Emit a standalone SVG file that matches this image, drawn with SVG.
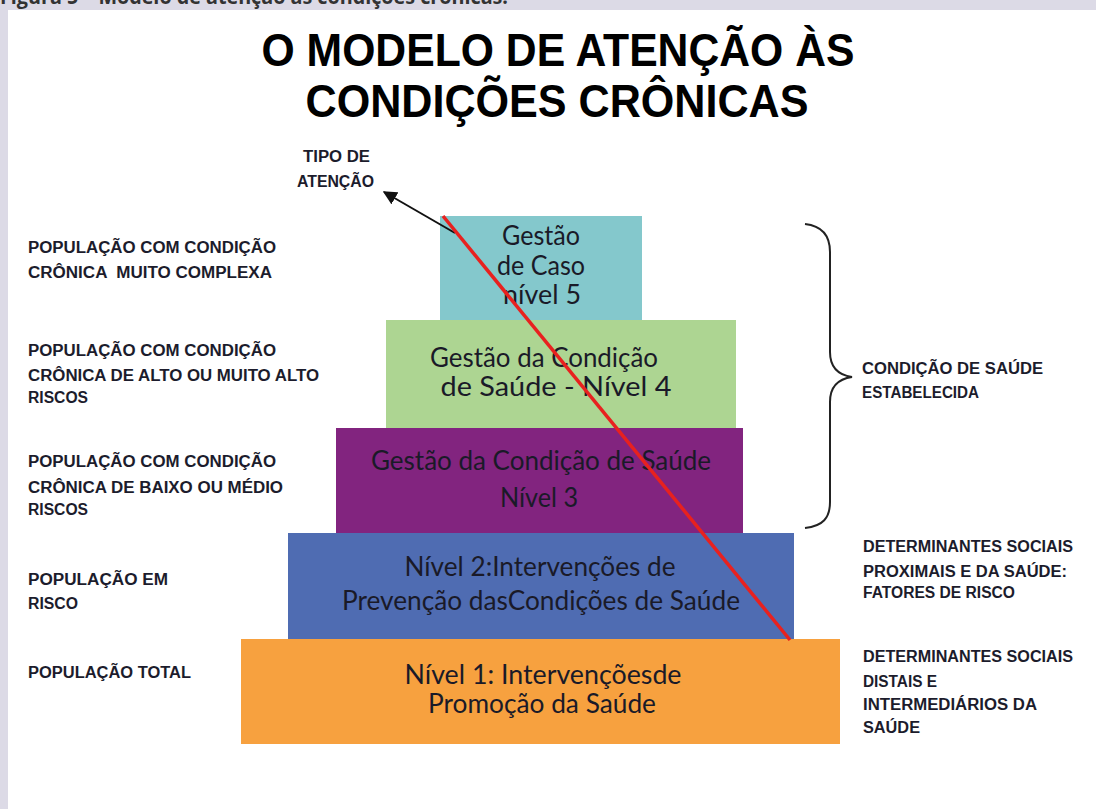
<svg xmlns="http://www.w3.org/2000/svg" width="1096" height="809" viewBox="0 0 1096 809">
<defs>
<style>
.lbl{font-family:"Liberation Sans",Arial,sans-serif;font-weight:bold;font-size:16px;fill:#1c1c2c}
.box{font-family:Lato,"Open Sans",sans-serif;font-size:26px;fill:#1a1a28;text-anchor:middle}
.title{font-family:"Liberation Sans",Arial,sans-serif;font-weight:bold;font-size:46px;fill:#000;text-anchor:middle}
</style>
<marker id="ah" viewBox="0 0 10 10" refX="9" refY="5" markerWidth="7" markerHeight="7" orient="auto">
<path d="M0,0 L10,5 L0,10 z" fill="#111"/>
</marker>
</defs>
<rect x="0" y="0" width="1096" height="809" fill="#dcdae6"/>
<rect x="8" y="10" width="1088" height="799" fill="#ffffff"/>
<text x="0" y="4" font-family="'Open Sans','Liberation Sans',sans-serif" font-weight="bold" font-size="22" fill="#333" textLength="508" lengthAdjust="spacingAndGlyphs">Figura 5 – Modelo de atenção às condições crônicas.</text>

<g id="title">
<text class="title" x="558" y="66" textLength="593" lengthAdjust="spacingAndGlyphs">O MODELO DE ATENÇÃO ÀS</text>
<text class="title" x="557" y="117" textLength="503" lengthAdjust="spacingAndGlyphs">CONDIÇÕES CRÔNICAS</text>
</g>

<g id="level1">
<rect x="241" y="639" width="599" height="105" fill="#f7a13f"/>
<text class="box" x="543" y="684" textLength="277" lengthAdjust="spacingAndGlyphs">Nível 1: Intervençõesde</text>
<text class="box" x="542" y="713" textLength="228" lengthAdjust="spacingAndGlyphs">Promoção da Saúde</text>
</g>
<g id="level2">
<rect x="288" y="533" width="506" height="106" fill="#4f6cb2"/>
<text class="box" x="540" y="576" textLength="271" lengthAdjust="spacingAndGlyphs">Nível 2:Intervenções de</text>
<text class="box" x="541" y="610" textLength="398" lengthAdjust="spacingAndGlyphs">Prevenção dasCondições de Saúde</text>
</g>
<g id="level3">
<rect x="336" y="428" width="407" height="105" fill="#82247f"/>
<text class="box" x="541" y="470" textLength="340" lengthAdjust="spacingAndGlyphs">Gestão da Condição de Saúde</text>
<text class="box" x="539" y="507" textLength="78" lengthAdjust="spacingAndGlyphs">Nível 3</text>
</g>
<g id="level4">
<rect x="386" y="320" width="350" height="108" fill="#add592"/>
<text class="box" x="544" y="367" textLength="228" lengthAdjust="spacingAndGlyphs">Gestão da Condição</text>
<text class="box" x="556" y="396" textLength="231" lengthAdjust="spacingAndGlyphs">de Saúde - Nível 4</text>
</g>
<g id="level5">
<rect x="440" y="216" width="202" height="104" fill="#84c8cc"/>
<text class="box" x="541" y="245" textLength="78" lengthAdjust="spacingAndGlyphs">Gestão</text>
<text class="box" x="541" y="275" textLength="88" lengthAdjust="spacingAndGlyphs">de Caso</text>
<text class="box" x="542" y="304" textLength="78" lengthAdjust="spacingAndGlyphs">nível 5</text>
</g>

<g id="left-labels">
<text class="lbl" x="28" y="253" textLength="248" lengthAdjust="spacingAndGlyphs">POPULAÇÃO COM CONDIÇÃO</text>
<text class="lbl" x="28" y="278" textLength="244" lengthAdjust="spacingAndGlyphs" xml:space="preserve">CRÔNICA  MUITO COMPLEXA</text>
<text class="lbl" x="28" y="356" textLength="248" lengthAdjust="spacingAndGlyphs">POPULAÇÃO COM CONDIÇÃO</text>
<text class="lbl" x="28" y="381" textLength="291" lengthAdjust="spacingAndGlyphs">CRÔNICA DE ALTO OU MUITO ALTO</text>
<text class="lbl" x="28" y="403" textLength="60" lengthAdjust="spacingAndGlyphs">RISCOS</text>
<text class="lbl" x="28" y="467" textLength="248" lengthAdjust="spacingAndGlyphs">POPULAÇÃO COM CONDIÇÃO</text>
<text class="lbl" x="28" y="493" textLength="255" lengthAdjust="spacingAndGlyphs">CRÔNICA DE BAIXO OU MÉDIO</text>
<text class="lbl" x="28" y="515" textLength="60" lengthAdjust="spacingAndGlyphs">RISCOS</text>
<text class="lbl" x="28" y="585" textLength="140" lengthAdjust="spacingAndGlyphs">POPULAÇÃO EM</text>
<text class="lbl" x="28" y="609" textLength="50" lengthAdjust="spacingAndGlyphs">RISCO</text>
<text class="lbl" x="28" y="678" textLength="163" lengthAdjust="spacingAndGlyphs">POPULAÇÃO TOTAL</text>
</g>

<g id="tipo-label">
<text class="lbl" x="303" y="162" textLength="67" lengthAdjust="spacingAndGlyphs">TIPO DE</text>
<text class="lbl" x="297" y="187" textLength="77" lengthAdjust="spacingAndGlyphs">ATENÇÃO</text>
</g>

<g id="right-labels">
<text class="lbl" x="862" y="374" textLength="181" lengthAdjust="spacingAndGlyphs">CONDIÇÃO DE SAÚDE</text>
<text class="lbl" x="862" y="398" textLength="117" lengthAdjust="spacingAndGlyphs">ESTABELECIDA</text>
<text class="lbl" x="863" y="552" textLength="210" lengthAdjust="spacingAndGlyphs">DETERMINANTES SOCIAIS</text>
<text class="lbl" x="863" y="577" textLength="204" lengthAdjust="spacingAndGlyphs">PROXIMAIS E DA SAÚDE:</text>
<text class="lbl" x="863" y="598" textLength="152" lengthAdjust="spacingAndGlyphs">FATORES DE RISCO</text>
<text class="lbl" x="863" y="662" textLength="210" lengthAdjust="spacingAndGlyphs">DETERMINANTES SOCIAIS</text>
<text class="lbl" x="863" y="687" textLength="74" lengthAdjust="spacingAndGlyphs">DISTAIS E</text>
<text class="lbl" x="863" y="710" textLength="174" lengthAdjust="spacingAndGlyphs">INTERMEDIÁRIOS DA</text>
<text class="lbl" x="863" y="733" textLength="57" lengthAdjust="spacingAndGlyphs">SAÚDE</text>
</g>

<g id="connectors">
<line x1="455" y1="233" x2="384" y2="192" stroke="#111" stroke-width="2" marker-end="url(#ah)"/>
<line x1="443" y1="216" x2="790" y2="640" stroke="#e8211f" stroke-width="3.5"/>
<path d="M805,224 C823,226 830,236 830,252 L830,352 C830,368 838,375 852,377 C838,379 830,386 830,402 L830,502 C830,518 823,526 805,528" fill="none" stroke="#222" stroke-width="2"/>
</g>
</svg>
